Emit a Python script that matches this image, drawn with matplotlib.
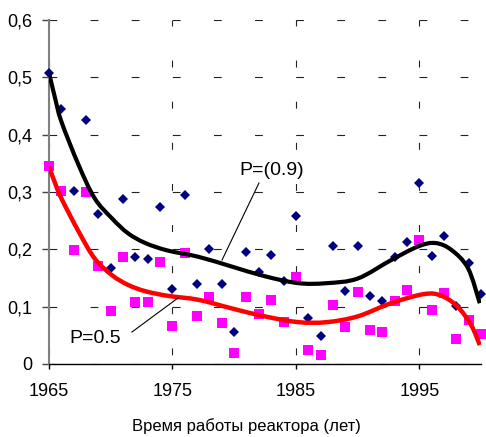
import numpy as np
import matplotlib
matplotlib.use("Agg")
import matplotlib.pyplot as plt
from matplotlib import font_manager as fm
from matplotlib.path import Path
from matplotlib.patches import PathPatch

# ---------------- data ----------------
years = list(range(1965, 2001))
p09_points = [0.508, 0.445, 0.302, 0.426, 0.262, 0.167, 0.287, 0.186, 0.183, 0.274,
              0.131, 0.295, 0.140, 0.200, 0.140, 0.056, 0.195, 0.160, 0.190, 0.144,
              0.258, 0.080, 0.049, 0.206, 0.127, 0.206, 0.119, 0.110, 0.186, 0.212,
              0.316, 0.189, 0.223, 0.102, 0.177, 0.122]
p05_points = [0.345, 0.302, 0.198, 0.300, 0.171, 0.092, 0.187, 0.108, 0.108, 0.178,
              0.066, 0.193, 0.084, 0.117, 0.071, 0.019, 0.116, 0.088, 0.112, 0.073,
              0.152, 0.024, 0.015, 0.103, 0.064, 0.126, 0.059, 0.055, 0.110, 0.129,
              0.216, 0.095, 0.123, 0.044, 0.077, 0.052]

curve_x_09 = [1965.0, 1965.5, 1966.0, 1967.4, 1968.7, 1970.1, 1971.4, 1972.8, 1974.6,
              1977.1, 1979.8, 1982.5, 1985.2, 1987.5, 1990.0, 1992.7, 1994.9, 1996.3,
              1997.6, 1998.95, 1999.9]
curve_y_09 = [0.508, 0.463, 0.423, 0.347, 0.289, 0.254, 0.228, 0.211, 0.198,
              0.187, 0.170, 0.153, 0.141, 0.141, 0.149, 0.181, 0.205, 0.211,
              0.199, 0.167, 0.106]
curve_x_05 = [1965.0, 1965.5, 1966.0, 1967.4, 1968.7, 1970.1, 1971.4, 1972.8, 1974.6,
              1977.1, 1979.8, 1982.5, 1985.2, 1987.5, 1990.0, 1992.7, 1995.4, 1996.8,
              1998.1, 1999.2, 1999.9]
curve_y_05 = [0.344, 0.315, 0.289, 0.231, 0.184, 0.155, 0.138, 0.127, 0.119,
              0.112, 0.097, 0.083, 0.073, 0.073, 0.083, 0.106, 0.122, 0.119,
              0.100, 0.068, 0.033]

x_ticks = [1965, 1975, 1985, 1995]
x_tick_labels = ["1965", "1975", "1985", "1995"]
y_ticks = [0.0, 0.1, 0.2, 0.3, 0.4, 0.5, 0.6]
y_tick_labels = ["0", "0,1", "0,2", "0,3", "0,4", "0,5", "0,6"]
x_label = "Время работы реактора (лет)"
label_09 = "P=(0.9)"
label_05 = "P=0.5"

# ---------------- fonts ----------------
def pick(names):
    for n in names:
        try:
            fm.findfont(fm.FontProperties(family=n), fallback_to_default=False)
            return n
        except Exception:
            pass
    return "DejaVu Sans"

axis_font = pick(["Liberation Sans Narrow", "Liberation Sans"])
text_font = pick(["Liberation Sans", "Arial"])
narrow = axis_font == "Liberation Sans Narrow"

plt.rcParams["lines.scale_dashes"] = False


def smooth_path(xs, ys):
    """Smoothed line (Bezier through the read points, like a spreadsheet's smoothed line)."""
    pts = np.column_stack([xs, ys]).astype(float)
    n = len(pts)
    verts = [tuple(pts[0])]
    codes = [Path.MOVETO]
    for i in range(n - 1):
        p0 = pts[i - 1] if i > 0 else pts[i]
        p1 = pts[i]
        p2 = pts[i + 1]
        p3 = pts[i + 2] if i + 2 < n else pts[i + 1]
        c1 = p1 + (p2 - p0) / 6.0
        c2 = p2 - (p3 - p1) / 6.0
        verts += [tuple(c1), tuple(c2), tuple(p2)]
        codes += [Path.CURVE4] * 3
    return Path(verts, codes)


fig = plt.figure(figsize=(4.86, 4.37), dpi=100)
ax = fig.add_axes([49 / 486, 73 / 437, 432 / 486, 344 / 437])

ax.set_xlim(1965, 2000)
ax.set_ylim(0, 0.6)

# grid
ax.grid(axis="y", color="#222222", linewidth=0.8, linestyle=(0, (5.6, 24.0)))
ax.grid(axis="x", color="#222222", linewidth=0.8, linestyle=(23.0, (5.0, 24.6)))

# points
ax.plot(years, p09_points, linestyle="none", marker="D", markersize=5.2,
        color="#000080", markeredgewidth=0, clip_on=False, zorder=3)
ax.plot(years, p05_points, linestyle="none", marker="s", markersize=7.2,
        color="#FF00FF", markeredgewidth=0, clip_on=False, zorder=3)

# curves
ax.add_patch(PathPatch(smooth_path(curve_x_09, curve_y_09), facecolor="none",
                       edgecolor="black", linewidth=3.0, zorder=4,
                       capstyle="butt", joinstyle="round"))
ax.add_patch(PathPatch(smooth_path(curve_x_05, curve_y_05), facecolor="none",
                       edgecolor="#FF0000", linewidth=3.2, zorder=4,
                       capstyle="butt", joinstyle="round"))

# annotations
ax.plot([1982.01, 1979.02], [0.3157, 0.1814], color="black", linewidth=0.8, zorder=5)
ax.plot([1971.72, 1975.45], [0.0558, 0.1151], color="black", linewidth=0.8, zorder=5)
ax.text(1980.39, 0.3297, label_09, fontsize=14, family=text_font,
        ha="left", va="baseline", zorder=6)
ax.text(1966.62, 0.0361, label_05, fontsize=14, family=text_font,
        ha="left", va="baseline", zorder=6)

# spines
for s in ("top", "right"):
    ax.spines[s].set_visible(False)
ax.spines["left"].set_color("#808080")
ax.spines["left"].set_linewidth(1.5)
ax.spines["bottom"].set_color("black")
ax.spines["bottom"].set_linewidth(1.0)

tick_size = 14.4 if narrow else 13.0
xl_size = 14.0 if narrow else 12.0

ax.set_xticks(x_ticks)
ax.set_xticklabels(x_tick_labels, family=axis_font, fontsize=tick_size)
ax.set_yticks(y_ticks)
ax.set_yticklabels(y_tick_labels, family=axis_font, fontsize=tick_size)
ax.tick_params(axis="y", direction="out", length=5, width=1, color="#444444", pad=7)
ax.tick_params(axis="x", direction="out", length=3.6, width=1, color="black", pad=10)

fig.text(246.7 / 486, 6 / 437, x_label, family=axis_font, fontsize=xl_size,
         ha="center", va="baseline")

fig.savefig("out.png", dpi=100)
